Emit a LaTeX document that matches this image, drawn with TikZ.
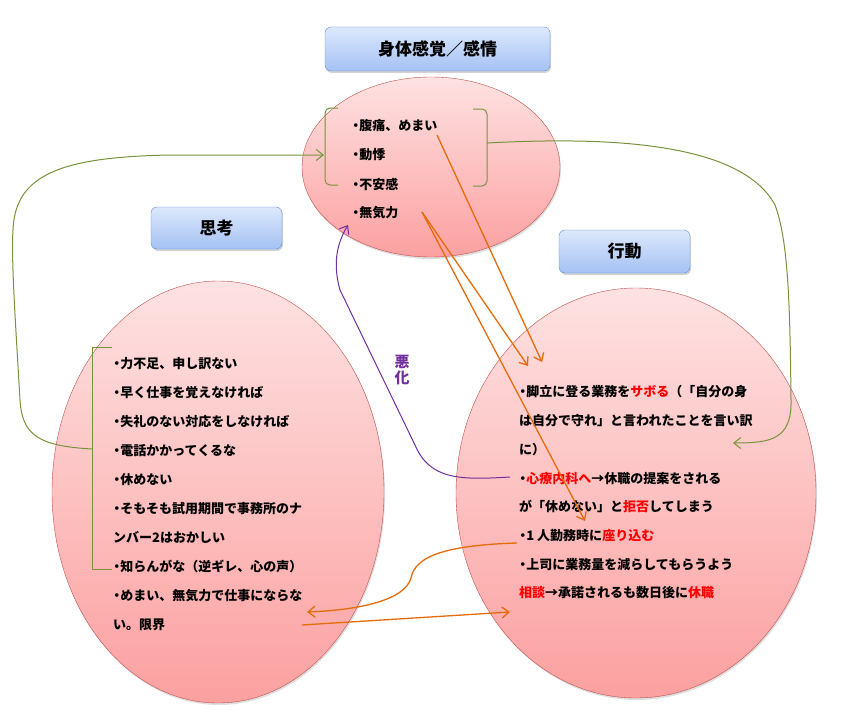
\documentclass[tikz,border=0pt]{standalone}
\usepackage{fontspec}
\newfontfamily\jp{Noto Sans CJK JP}
\usetikzlibrary{shapes.geometric,shadows,arrows.meta}

\definecolor{boxtop}{RGB}{221,232,252}
\definecolor{boxbot}{RGB}{164,194,244}
\definecolor{boxline}{RGB}{101,141,206}
\definecolor{elltop}{RGB}{254,226,226}
\definecolor{ellbot}{RGB}{252,160,160}
\definecolor{ellline}{RGB}{192,80,77}
\definecolor{grn}{RGB}{119,147,60}
\definecolor{org}{RGB}{228,108,10}
\definecolor{ppl}{RGB}{112,48,160}

\newcommand\bul{\makebox[.55em][c]{・}}

\tikzset{
  hdbox/.style={draw=boxline, top color=boxtop, bottom color=boxbot,
    rounded corners=6pt, font=\jp\bfseries\fontsize{17}{20}\selectfont,
    drop shadow={opacity=.35, shadow xshift=1pt, shadow yshift=-2pt}},
  body/.style={ellipse, draw=ellline, top color=elltop, bottom color=ellbot,
    drop shadow={opacity=.25, shadow xshift=1pt, shadow yshift=-2pt}},
  txt/.style={anchor=west, inner sep=0pt,
    font=\jp\bfseries\fontsize{13}{15}\selectfont},
  gpath/.style={draw=grn, line width=1pt},
  opath/.style={draw=org, line width=1.3pt},
  ppath/.style={draw=ppl, line width=1pt}
}

\begin{document}
\begin{tikzpicture}[x=1pt,y=-1pt,>={Straight Barb[length=7pt,width=11pt]}]
     \useasboundingbox (0,0) rectangle (862,717);

          % ellipses
          \node[body, minimum width=258, minimum height=180] (kankaku) at (431,167) {};
          \node[body, minimum width=332, minimum height=422] (shikou) at (218,492) {};
          \node[body, minimum width=360, minimum height=410] (koudou) at (636,493) {};

          % headers
          \node[hdbox, minimum width=225, minimum height=44] (kankakuhd) at (437.5,49) {身体感覚／感情};
          \node[hdbox, minimum width=131, minimum height=42] (shikouhd) at (216.5,228) {思考};
          \node[hdbox, minimum width=131, minimum height=43] (koudouhd) at (624.5,251.5) {行動};

          % texts
          \foreach \t [count=\i] in {\bul 腹痛、めまい, \bul 動悸, \bul 不安感, \bul 無気力}
          \node[txt] (kan\i) at (352,97+29*\i) {\t};

          \foreach \t [count=\i] in {\bul 力不足、申し訳ない, \bul 早く仕事を覚えなければ,
            \bul 失礼のない対応をしなければ, \bul 電話かかってくるな, \bul 休めない,
            \bul そもそも試用期間で事務所のナ, ンバー2はおかしい,
            \bul 知らんがな（逆ギレ、心の声）, \bul めまい、無気力で仕事にならな, い。限界}
          \node[txt] (shi\i) at (113,334+29.1*\i) {\t};

          \foreach \t [count=\i] in {\bul 脚立に登る業務を\textcolor{red}{サボる}（「自分の身,
            は自分で守れ」と言われたことを言い訳, に）,
            \bul \textcolor{red}{心療内科へ}→休職の提案をされる,
            が「休めない」と\textcolor{red}{拒否}してしまう,
            \bul 1 人勤務時に\textcolor{red}{座り込む}, \bul 上司に業務量を減らしてもらうよう,
            \textcolor{red}{相談}→承諾されるも数日後に\textcolor{red}{休職}}
          \node[txt] (kou\i) at (519,363.3+28.7*\i) {\t};

          \node[font=\jp\bfseries\fontsize{15}{16}\selectfont, text=ppl, align=center]
          (akka) at (402,370) {悪\\化};

          % brackets
          \draw[gpath, rounded corners=5] (338,108) -- (325,108) -- (325,185) -- (338,185);
          \draw[gpath, rounded corners=5] (473,109) -- (487,109) -- (487,186) -- (473,186);
          \draw[gpath] (112,347) -- (92,347) -- (92,569) -- (112,569);

          \coordinate (shibr) at (92,449);
          \coordinate (kanbrl) at (324,155);
          \coordinate (kanbrr) at (487,143);
          \coordinate (koutip) at (733,443);

          \draw[gpath,->] (shibr) .. controls (40,446) and (22,436) .. (20,400)
          .. controls (16,330) and (11,260) .. (13,230)
          .. controls (15,175) and (60,157) .. (170,155) -- (kanbrl);
          \draw[gpath,->] (kanbrr) .. controls (600,137) and (740,140) .. (775,205)
          .. controls (788,240) and (790,300) .. (791,400)
          .. controls (792,440) and (770,443) .. (koutip);

          % orange arrows
          \coordinate (o1s) at (437,135);
          \coordinate (o1e) at (542,362);
          \coordinate (o2s) at (422,212);
          \coordinate (o2e) at (528,366);
          \coordinate (o3e) at (585,521);
          \coordinate (o4s) at (517,543);
          \coordinate (o4e) at (307,612);
          \coordinate (o5s) at (302,625);
          \coordinate (o5e) at (510,612);

          \draw[opath,->] (o1s) -- (o1e);
          \draw[opath,->] (o2s) -- (o2e);
          \draw[opath,->] (o2s) -- (o3e);
          \draw[opath,->] (o4s) .. controls (450,545) and (415,555) .. (411,578)
          .. controls (405,600) and (360,610) .. (o4e);
          \draw[opath,->] (o5s) -- (o5e);

          % purple
          \coordinate (ps) at (510,477);
          \coordinate (pe) at (348,225);
          \draw[ppath,->] (ps) .. controls (460,480) and (430,480) .. (415,445)
          -- (340,290) .. controls (333,265) and (336,245) .. (pe);
\end{tikzpicture}
\end{document}
